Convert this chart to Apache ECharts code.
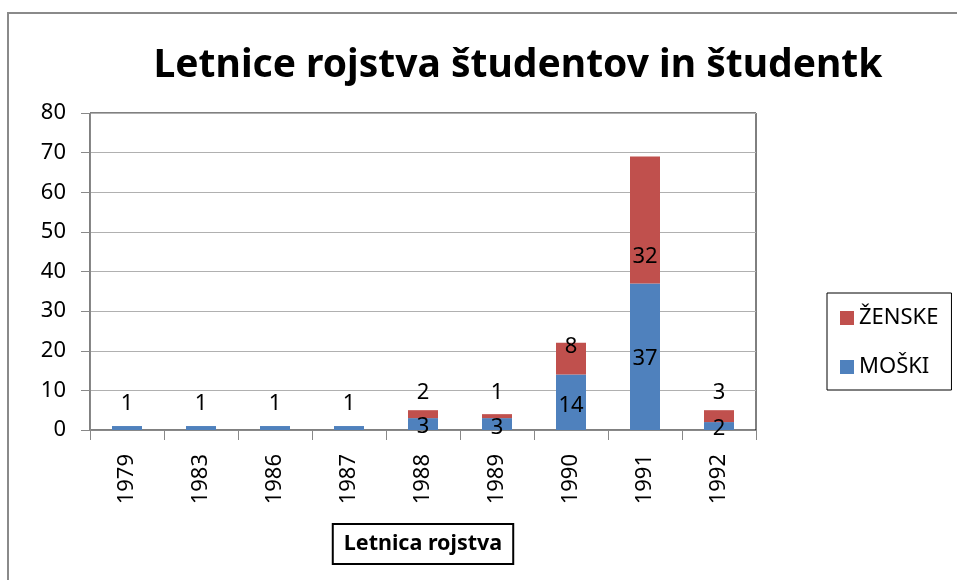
<!DOCTYPE html>
<html>
<head>
<meta charset="utf-8">
<script src="https://cdn.jsdelivr.net/npm/echarts@6/dist/echarts.min.js"></script>
<style>
html,body{margin:0;padding:0;background:#fff;}
#c{width:957px;height:580px;}
</style>
</head>
<body>
<div id="c"></div>
<script>
var categories = ['1979','1983','1986','1987','1988','1989','1990','1991','1992'];
var moski = [1, 1, 1, 1, 3, 3, 14, 37, 2];
var zenske = [0, 0, 0, 0, 2, 1, 8, 32, 3];
var yTicks = [0, 10, 20, 30, 40, 50, 60, 70, 80];

// label offsets (styling only)
var moskiLabelOffset = [-24, -24, -24, -24, 3, 4, 3, 2, 3];
var zenskeLabelOffset = [0, 0, 0, 0, -21, -23, -12, 37, -23];

var FONT = 'Noto Sans';

function items(vals, offs) {
  return vals.map(function (v, i) {
    return {
      value: v === 0 ? null : v,
      label: { offset: [0, offs[i]] }
    };
  });
}

var chart = echarts.init(document.getElementById('c'));
chart.setOption({
  animation: false,
  backgroundColor: '#fff',
  textStyle: { fontFamily: FONT },
  grid: { left: 90, right: 201, top: 113, bottom: 150, containLabel: false, outerBoundsMode: 'none',
    show: true, borderColor: '#000', borderWidth: 1, backgroundColor: 'transparent' },
  graphic: [
    { type: 'rect', shape: { x: 8, y: 13, width: 1000, height: 1000 }, style: { fill: 'none', stroke: '#8a8a8a', lineWidth: 2 }, z: -10 },
    { type: 'text', x: 518, y: 66, style: { text: 'Letnice rojstva študentov in študentk', font: 'bold 39px "Noto Sans"', fill: '#000', align: 'center', verticalAlign: 'middle' } }
  ],
  legend: {
    orient: 'vertical',
    left: 827, top: 293,
    padding: [14, 13, 12, 13],
    itemGap: 27,
    itemWidth: 14, itemHeight: 14,
    itemTextGap: 7,
    borderColor: '#000', borderWidth: 1,
    data: ['ŽENSKE', 'MOŠKI'],
    textStyle: { fontFamily: FONT, fontSize: 22, color: '#000' },
    icon: 'rect'
  },
  xAxis: {
    type: 'category',
    data: categories,
    name: 'Letnica rojstva',
    nameLocation: 'middle',
    nameGap: 94,
    nameTextStyle: { fontFamily: FONT, fontWeight: 'bold', fontSize: 21.5, color: '#000', borderColor: '#000', borderWidth: 2, padding: [9, 11, 9, 11] },
    axisLine: { lineStyle: { color: '#888' } },
    axisTick: { show: true, length: 10, lineStyle: { color: '#888' } },
    axisLabel: { rotate: 90, fontSize: 22, color: '#000', margin: 24, fontFamily: FONT }
  },
  yAxis: {
    type: 'value',
    min: 0, max: 80, interval: 10,
    axisLine: { show: true, lineStyle: { color: '#888' } },
    axisTick: { show: true, length: 9, lineStyle: { color: '#888' } },
    splitLine: { lineStyle: { color: '#b0b0b0' } },
    axisLabel: { fontSize: 22, color: '#000', margin: 24, fontFamily: FONT,
      formatter: function (v) { return yTicks.indexOf(v) >= 0 ? String(v) : ''; } }
  },
  series: [
    {
      name: 'MOŠKI', type: 'bar', stack: 's', barWidth: 30,
      itemStyle: { color: '#4F81BD' },
      label: { show: true, position: 'inside', fontSize: 22, color: '#000', fontFamily: FONT },
      data: items(moski, moskiLabelOffset)
    },
    {
      name: 'ŽENSKE', type: 'bar', stack: 's', barWidth: 30,
      itemStyle: { color: '#C0504D' },
      label: { show: true, position: 'inside', fontSize: 22, color: '#000', fontFamily: FONT },
      data: items(zenske, zenskeLabelOffset)
    }
  ]
});
</script>
</body>
</html>
